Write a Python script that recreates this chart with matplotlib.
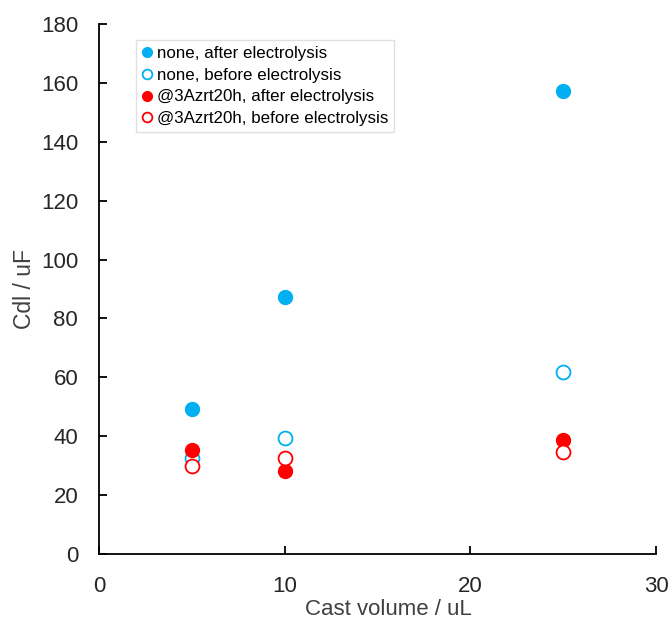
import matplotlib
matplotlib.use("Agg")
import matplotlib.pyplot as plt

plt.rcParams['font.family'] = ['Liberation Sans', 'DejaVu Sans']

cast_volume = [5, 10, 25]
none_after = [49.2, 87.2, 157.3]
none_before = [32.6, 39.3, 61.8]
azr_after = [35.2, 28.1, 38.7]
azr_before = [29.9, 32.6, 34.6]

blue = '#00B0F0'
red = '#FF0000'

fig = plt.figure(figsize=(6.72, 6.22), dpi=100)
ax = fig.add_axes([0.1473, 0.1093, 0.829, 0.852])

ms = 10
ax.plot(cast_volume, none_after, 'o', color=blue, ms=ms, mec=blue, label='none, after electrolysis', zorder=3)
ax.plot(cast_volume, none_before, 'o', mfc='white', mec=blue, mew=1.3, ms=ms, label='none, before electrolysis', zorder=3)
ax.plot(cast_volume, azr_after, 'o', color=red, ms=ms, mec=red, label='@3Azrt20h, after electrolysis', zorder=3)
ax.plot(cast_volume, azr_before, 'o', mfc='white', mec=red, mew=1.3, ms=ms, label='@3Azrt20h, before electrolysis', zorder=3)

ax.set_xlim(0, 30)
ax.set_ylim(0, 180)
ax.set_xticks([0, 10, 20, 30])
ax.set_yticks(range(0, 181, 20))
ax.tick_params(direction='in', length=6, width=1.3, labelsize=16, colors='black', labelcolor='#262626')
ax.tick_params(axis='y', pad=15)
ax.tick_params(axis='x', pad=16)
for s in ['top', 'right']:
    ax.spines[s].set_visible(False)
for s in ['left', 'bottom']:
    ax.spines[s].set_linewidth(1.3)
ax.set_xlabel('Cast volume / uL', fontsize=16, color='#404040')
ax.xaxis.set_label_coords(0.52, -0.085)
ax.set_ylabel('Cdl / uF', fontsize=16.5, color='#404040')
ax.yaxis.set_label_coords(-0.113, 0.5)

leg = ax.legend(loc='upper left', bbox_to_anchor=(0.066, 0.97), fontsize=12.2, markerscale=0.7,
                handlelength=0.6, handletextpad=0.3, borderpad=0.35, labelspacing=0.4,
                frameon=True, fancybox=False, edgecolor='#D9D9D9', borderaxespad=0)
leg.get_frame().set_linewidth(1.0)

fig.savefig('out.png', dpi=100)
